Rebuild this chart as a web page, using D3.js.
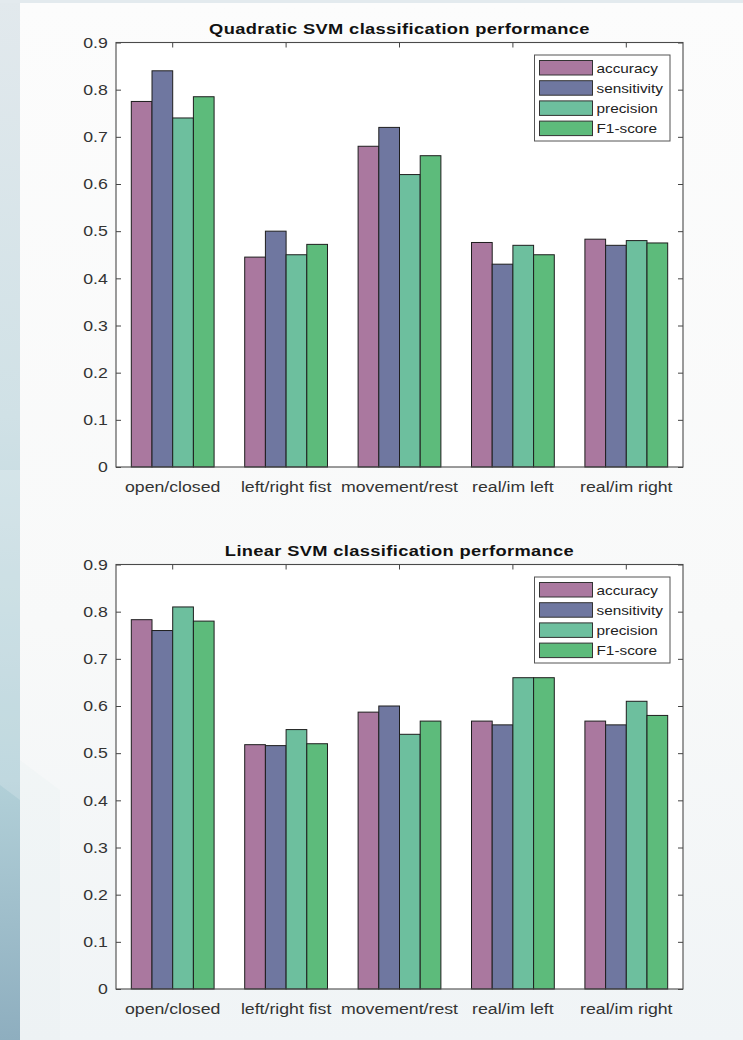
<!DOCTYPE html>
<html>
<head>
<meta charset="utf-8">
<script src="https://cdn.jsdelivr.net/npm/d3@7/dist/d3.min.js"></script>
<style>
  html, body { margin: 0; padding: 0; background: #f6f8f9; }
  svg { display: block; }
  text { font-family: "Liberation Sans", Arial, Helvetica, sans-serif; }
</style>
</head>
<body>
<svg id="fig" width="743" height="1040"></svg>
<script>
// Classification tasks along the x axis
const categories = ["open/closed", "left/right fist", "movement/rest", "real/im left", "real/im right"];
// Metrics (one bar per metric in every group)
const metrics = ["accuracy", "sensitivity", "precision", "F1-score"];
const metricColors = ["#aa789f", "#6f77a0", "#6dbf9e", "#5dbb7b"];
const yTicks = [0, 0.1, 0.2, 0.3, 0.4, 0.5, 0.6, 0.7, 0.8, 0.9];

// Quadratic SVM: [accuracy, sensitivity, precision, F1] per task
const quadAccuracy    = [0.775, 0.445, 0.680, 0.476, 0.483];
const quadSensitivity = [0.840, 0.500, 0.720, 0.430, 0.470];
const quadPrecision   = [0.740, 0.450, 0.620, 0.470, 0.480];
const quadF1          = [0.785, 0.472, 0.660, 0.450, 0.475];

// Linear SVM
const linAccuracy    = [0.783, 0.518, 0.587, 0.568, 0.568];
const linSensitivity = [0.760, 0.516, 0.600, 0.560, 0.560];
const linPrecision   = [0.810, 0.550, 0.540, 0.660, 0.610];
const linF1          = [0.780, 0.520, 0.568, 0.660, 0.580];

const panels = [
  { title: "Quadratic SVM classification performance", top: 42.5,
    series: [quadAccuracy, quadSensitivity, quadPrecision, quadF1] },
  { title: "Linear SVM classification performance", top: 564.5,
    series: [linAccuracy, linSensitivity, linPrecision, linF1] }
];

const svg = d3.select("#fig");
const W = 743, H = 1040;
const SX = 1.18; // horizontal stretch of the lettering

// ---- page background ----
const defs = svg.append("defs");
const side = defs.append("linearGradient").attr("id", "sideGrad")
  .attr("x1", 0).attr("y1", 0).attr("x2", 0).attr("y2", 1);
side.append("stop").attr("offset", "0%").attr("stop-color", "#e2e9ed");
side.append("stop").attr("offset", "40%").attr("stop-color", "#d0e1e6");
side.append("stop").attr("offset", "75%").attr("stop-color", "#b2d0d8");
side.append("stop").attr("offset", "100%").attr("stop-color", "#8eaebf");

const pageGrad = defs.append("linearGradient").attr("id", "pageGrad")
  .attr("x1", 0).attr("y1", 0).attr("x2", 0).attr("y2", 1);
pageGrad.append("stop").attr("offset", "0%").attr("stop-color", "#fcfcfc");
pageGrad.append("stop").attr("offset", "60%").attr("stop-color", "#f8f9f9");
pageGrad.append("stop").attr("offset", "100%").attr("stop-color", "#f0f4f6");

svg.append("rect").attr("width", W).attr("height", H).attr("fill", "url(#pageGrad)");
svg.append("rect").attr("x", 0).attr("y", 0).attr("width", 20).attr("height", H).attr("fill", "url(#sideGrad)");
// soft diagonal sheen on the side strip
svg.append("path")
  .attr("d", "M0,470 L20,470 L20,800 L0,785 Z")
  .attr("fill", "#ffffff").attr("opacity", 0.18);
svg.append("path")
  .attr("d", "M20,760 L60,790 L60,1040 L20,1040 Z")
  .attr("fill", "#dde8ee").attr("opacity", 0.15);
svg.append("rect").attr("x", 0).attr("y", 0).attr("width", W).attr("height", 3).attr("fill", "#e3eaee");

// ---- one bar chart per panel ----
const left = 116, right = 683, plotH = 424.5;

function stretch(sel) {
  sel.each(function () {
    const t = d3.select(this);
    t.attr("transform", `scale(${SX},1)`);
  });
}

panels.forEach(p => {
  const g = svg.append("g");
  const top = p.top, bottom = top + plotH;

  const x = d3.scaleBand().domain(categories).range([left, right]).padding(0);
  const groupW = x.bandwidth() * 0.73;
  const xm = d3.scaleBand().domain(metrics).range([0, groupW]).padding(0);
  const y = d3.scaleLinear().domain([0, 0.9]).range([bottom, top]);

  // plot area
  g.append("rect").attr("x", left).attr("y", top)
    .attr("width", right - left).attr("height", bottom - top)
    .attr("fill", "#ffffff");

  // bottom category labels
  const xAxis = g.append("g").attr("transform", `translate(0,${bottom})`)
    .call(d3.axisBottom(x).tickSize(0).tickPadding(0));
  xAxis.select(".domain").remove();
  xAxis.selectAll("text")
    .attr("y", 0).attr("dy", 0)
    .attr("font-size", 15).attr("fill", "#333")
    .attr("font-family", "Liberation Sans, Arial, sans-serif")
    .each(function () {
      d3.select(this).attr("transform", `translate(0,25) scale(${SX},1)`);
    });

  // top ticks
  const xTop = g.append("g").attr("transform", `translate(0,${top})`)
    .call(d3.axisTop(x).tickSize(-5).tickFormat(""));
  xTop.select(".domain").remove();
  xTop.selectAll("line").attr("stroke", "#444");

  // left axis with labels
  const yLeft = g.append("g").attr("transform", `translate(${left},0)`)
    .call(d3.axisLeft(y).tickValues(yTicks).tickSize(-5).tickPadding(7)
      .tickFormat(d => d === 0 ? "0" : d3.format(".1f")(d)));
  yLeft.select(".domain").remove();
  yLeft.selectAll("line").attr("stroke", "#444");
  yLeft.selectAll("text")
    .attr("font-size", 15).attr("fill", "#333")
    .attr("font-family", "Liberation Sans, Arial, sans-serif")
    .call(stretch);

  // right axis ticks
  const yRight = g.append("g").attr("transform", `translate(${right},0)`)
    .call(d3.axisRight(y).tickValues(yTicks).tickSize(-5).tickFormat(""));
  yRight.select(".domain").remove();
  yRight.selectAll("line").attr("stroke", "#444");

  // bars
  const rows = categories.map((c, i) => ({ c, vals: p.series.map(s => s[i]) }));
  const grp = g.append("g").selectAll("g").data(rows).join("g")
    .attr("transform", d => `translate(${x(d.c) + (x.bandwidth() - groupW) / 2},0)`);
  grp.selectAll("rect").data(d => d.vals.map((v, k) => ({ v, m: metrics[k], k })))
    .join("rect")
    .attr("x", d => xm(d.m))
    .attr("width", xm.bandwidth())
    .attr("y", d => y(d.v))
    .attr("height", d => y(0) - y(d.v))
    .attr("fill", d => metricColors[d.k])
    .attr("stroke", "#1e1e1e").attr("stroke-width", 1);

  // frame
  g.append("rect").attr("x", left).attr("y", top)
    .attr("width", right - left).attr("height", bottom - top)
    .attr("fill", "none").attr("stroke", "#4a4a4a").attr("stroke-width", 1.1);

  // title
  g.append("text")
    .attr("transform", `translate(${(left + right) / 2},${top - 8.5}) scale(${SX},1)`)
    .attr("text-anchor", "middle")
    .attr("font-size", 15.5).attr("font-weight", "bold").attr("fill", "#111")
    .attr("letter-spacing", 0.3)
    .text(p.title);

  // legend
  const lx = 534.5, ly = top + 12.5;
  const lg = g.append("g");
  lg.append("rect").attr("x", lx).attr("y", ly).attr("width", 135.5).attr("height", 86)
    .attr("fill", "#ffffff").attr("stroke", "#555").attr("stroke-width", 1);
  const item = lg.selectAll("g.item").data(metrics).join("g").attr("class", "item")
    .attr("transform", (d, i) => `translate(0,${ly + 5.5 + i * 20.2})`);
  item.append("rect").attr("x", lx + 5).attr("y", 0).attr("width", 53).attr("height", 14.5)
    .attr("fill", (d, i) => metricColors[i]).attr("stroke", "#333").attr("stroke-width", 1);
  item.append("text")
    .attr("transform", `translate(${lx + 62},12) scale(${SX},1)`)
    .attr("font-size", 13).attr("fill", "#222")
    .text(d => d);
});
</script>
</body>
</html>
